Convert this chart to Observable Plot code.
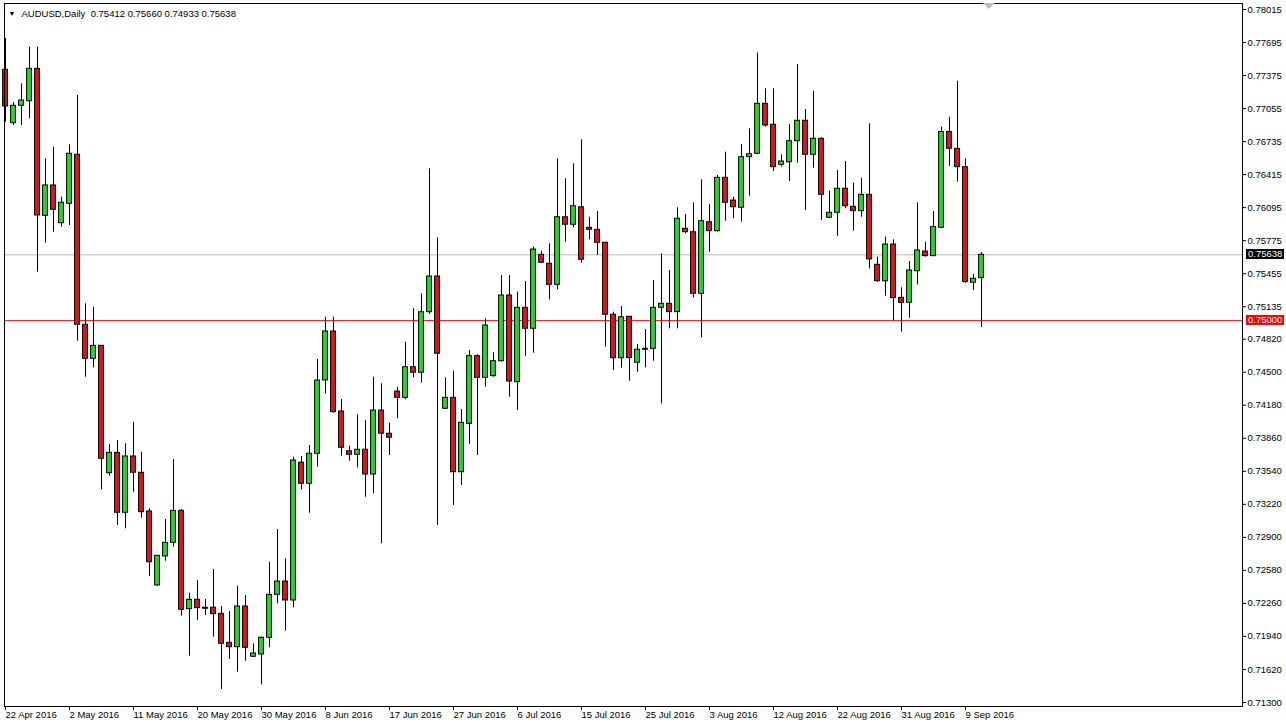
<!DOCTYPE html>
<html><head><meta charset="utf-8">
<script src="https://cdn.jsdelivr.net/npm/d3@7"></script>
<script src="https://cdn.jsdelivr.net/npm/@observablehq/plot@0.6"></script>
<style>html,body{margin:0;padding:0;background:#fff;} svg{display:block}</style>
</head><body><div id="chart"></div><script>
const symbolTitle = "AUDUSD,Daily";
const lastQuote = ["0.75412","0.75660","0.74933","0.75638"];

const open = [0.77431,0.76913,0.77082,0.77126,0.77440,0.76016,0.76310,0.75944,0.76132,0.76607,
0.74960,0.74630,0.74756,0.73522,0.73719,0.73138,0.73684,0.73526,0.73151,0.72434,
0.72715,0.72847,0.73157,0.72204,0.72295,0.72218,0.72218,0.72159,0.71878,0.71836,
0.72230,0.71743,0.71765,0.71927,0.72343,0.72472,0.72288,0.73623,0.73419,0.73710,
0.74420,0.74895,0.74120,0.73735,0.73700,0.73749,0.73509,0.74129,0.73904,0.74313,
0.74252,0.74549,0.74495,0.75082,0.75428,0.74146,0.74252,0.73531,0.74000,0.74656,
0.74446,0.74462,0.74607,0.75244,0.74404,0.75124,0.74921,0.75638,0.75551,0.75347,
0.76002,0.75929,0.76099,0.75900,0.75880,0.75754,0.75057,0.74636,0.75037,0.74592,
0.74718,0.74727,0.75124,0.75163,0.75082,0.75890,0.75857,0.75260,0.75954,0.75867,
0.76384,0.76164,0.76094,0.76584,0.76617,0.77101,0.76898,0.76510,0.76535,0.76739,
0.76937,0.76607,0.76762,0.75997,0.76045,0.76278,0.76103,0.76061,0.76219,0.75541,
0.75382,0.75738,0.75221,0.75173,0.75479,0.75670,0.75625,0.75900,0.76828,0.76665,
0.76487,0.75367,0.75412];
const high = [0.77734,0.77114,0.77295,0.77650,0.77650,0.76568,0.76681,0.76196,0.76704,0.77182,
0.75163,0.75130,0.74756,0.73800,0.73839,0.73807,0.74016,0.73725,0.73177,0.72724,
0.73073,0.73654,0.73167,0.72359,0.72482,0.72298,0.72589,0.72230,0.72182,0.72427,
0.72337,0.71869,0.71933,0.72659,0.72976,0.72692,0.73677,0.73684,0.73790,0.74624,
0.75033,0.75033,0.74236,0.73783,0.74088,0.74032,0.74452,0.74388,0.74006,0.74355,
0.74791,0.75115,0.75260,0.76471,0.75803,0.74446,0.74510,0.74139,0.74711,0.74669,
0.75018,0.74688,0.75437,0.75437,0.75276,0.75379,0.75712,0.75673,0.75745,0.76568,
0.76375,0.76520,0.76752,0.76002,0.76058,0.75760,0.75082,0.75137,0.75040,0.74769,
0.74914,0.75389,0.75648,0.75486,0.76094,0.76029,0.76142,0.76365,0.76125,0.76407,
0.76632,0.76196,0.76707,0.76859,0.77594,0.77247,0.77247,0.76607,0.76901,0.77482,
0.77046,0.77223,0.76770,0.76254,0.76455,0.76542,0.76332,0.76380,0.76907,0.75615,
0.75809,0.75783,0.75318,0.75573,0.76142,0.75760,0.76058,0.76875,0.76971,0.77320,
0.76568,0.75447,0.75660];
const low = [0.76923,0.76891,0.76891,0.76956,0.75469,0.75750,0.75857,0.75906,0.75922,0.74801,
0.74452,0.74543,0.73361,0.73493,0.73015,0.72983,0.73338,0.73086,0.72521,0.72427,
0.72669,0.72805,0.72136,0.71749,0.72094,0.72143,0.71933,0.71426,0.71717,0.71593,
0.71700,0.71736,0.71471,0.71830,0.72256,0.71991,0.72218,0.73361,0.73134,0.73580,
0.74291,0.74103,0.73687,0.73638,0.73574,0.73289,0.73322,0.72838,0.73693,0.74049,
0.74233,0.74446,0.74394,0.75060,0.73015,0.74140,0.73209,0.73403,0.73800,0.73693,
0.74355,0.74452,0.74600,0.74258,0.74129,0.74653,0.74685,0.75555,0.75202,0.75299,
0.75760,0.75900,0.75557,0.75783,0.75631,0.74743,0.74517,0.74539,0.74413,0.74500,
0.74543,0.74607,0.74194,0.74921,0.74921,0.75842,0.75221,0.74834,0.75663,0.75857,
0.75964,0.75987,0.75954,0.76206,0.76610,0.76875,0.76445,0.76487,0.76348,0.76526,
0.76067,0.76477,0.75970,0.75990,0.75818,0.76084,0.75867,0.76002,0.75502,0.75373,
0.75237,0.74995,0.74888,0.75024,0.75347,0.75615,0.75620,0.75895,0.76494,0.76342,
0.75363,0.75292,0.74933];
const close = [0.77075,0.77082,0.77133,0.77440,0.76019,0.76310,0.76074,0.76142,0.76617,0.74960,
0.74630,0.74756,0.73661,0.73719,0.73138,0.73684,0.73526,0.73144,0.72659,0.72721,
0.72847,0.73157,0.72198,0.72295,0.72214,0.72208,0.72156,0.71869,0.71836,0.72230,
0.71830,0.71775,0.71927,0.72343,0.72472,0.72288,0.73645,0.73419,0.73710,0.74420,
0.74895,0.74113,0.73768,0.73700,0.73749,0.73509,0.74129,0.73904,0.73865,0.74252,
0.74549,0.74495,0.75082,0.75428,0.74679,0.74252,0.73531,0.74010,0.74656,0.74446,
0.74953,0.74607,0.75244,0.74410,0.75124,0.74921,0.75689,0.75561,0.75347,0.76002,
0.75929,0.76109,0.75590,0.75880,0.75754,0.75057,0.74636,0.75033,0.74638,0.74718,
0.74727,0.75124,0.75163,0.75082,0.75987,0.75857,0.75260,0.75964,0.75867,0.76384,
0.76142,0.76099,0.76584,0.76613,0.77101,0.76891,0.76487,0.76542,0.76739,0.76937,
0.76607,0.76762,0.76219,0.76045,0.76278,0.76109,0.76061,0.76219,0.75593,0.75382,
0.75738,0.75218,0.75173,0.75486,0.75680,0.75625,0.75906,0.76828,0.76665,0.76487,
0.75373,0.75406,0.75638];

const dateTickBars = [0,8,16,24,32,40,48,56,64,72,80,88,96,104,112,120];
const dateTickLabels = ["22 Apr 2016","2 May 2016","11 May 2016","20 May 2016","30 May 2016","8 Jun 2016",
"17 Jun 2016","27 Jun 2016","6 Jul 2016","15 Jul 2016","25 Jul 2016","3 Aug 2016","12 Aug 2016",
"22 Aug 2016","31 Aug 2016","9 Sep 2016"];
const priceTicks = [0.78015,0.77695,0.77375,0.77055,0.76735,0.76415,0.76095,0.75775,0.75455,0.75135,
0.74820,0.74500,0.74180,0.73860,0.73540,0.73220,0.72900,0.72580,0.72260,0.71940,0.71620,0.71300];
const bidPrice = 0.75638;
const levelPrice = 0.75000;

const green = "#2fd32f", red = "#d41a1a";
const bars = open.map((o, i) => ({i, o, h: high[i], l: low[i], c: close[i], up: close[i] >= o}));
const font = "'Liberation Sans', Arial, sans-serif";

function priceTag(price, bg) {
  return (index, scales, values, dims) => {
    const y = Math.round(scales.y(price));
    const x0 = dims.width - dims.marginRight + 4;
    const g = d3.create("svg:g");
    g.append("rect").attr("x", x0).attr("y", y - 5).attr("width", 38).attr("height", 10).attr("fill", bg);
    g.append("text").attr("x", x0 + 2).attr("y", y).attr("dy", "0.35em")
      .attr("text-anchor", "start")
      .attr("fill", "white").attr("font-size", 9.5).attr("font-family", font)
      .text(price.toFixed(5));
    return g.node();
  };
}
function shiftMarker(index, scales, values, dims) {
  const cx = dims.marginLeft + (dims.width - dims.marginLeft - dims.marginRight) * 0.7955;
  return d3.create("svg:path")
    .attr("d", `M${cx - 6},${dims.marginTop} L${cx + 6},${dims.marginTop} L${cx},${dims.marginTop + 6} Z`)
    .attr("fill", "#bdbdbd").node();
}

const chart = Plot.plot({
  width: 1286, height: 728,
  marginLeft: 4, marginRight: 44, marginTop: 3, marginBottom: 22,
  style: {fontFamily: font, fontSize: "9.5px", background: "white", color: "black"},
  x: {type: "linear", domain: [-0.125, 154.625], axis: null},
  y: {domain: [0.712611, 0.780731], axis: null},
  marks: [
    Plot.ruleY([bidPrice], {stroke: "#b8b8b8"}),
    Plot.ruleY([levelPrice], {stroke: "#ff0000"}),
    Plot.ruleX(bars, {x: "i", y1: "l", y2: "h", stroke: "black", strokeWidth: 1}),
    Plot.rect(bars, {x1: d => d.i - 0.3, x2: d => d.i + 0.3, y1: "o", y2: "c",
      fill: d => d.up ? green : red, stroke: "black", strokeWidth: 1}),
    Plot.frame({stroke: "black"}),
    Plot.axisY({anchor: "right", ticks: priceTicks, tickFormat: d => d.toFixed(5), tickSize: 3, tickPadding: 2, fill: "black", label: null}),
    Plot.axisX({anchor: "bottom", ticks: dateTickBars, tickFormat: d => dateTickLabels[dateTickBars.indexOf(d)],
      tickSize: 4, tickPadding: 1, textAnchor: "start", dx: 0, fill: "black", label: null}),
    Plot.text([symbolTitle + "\u00a0\u00a0" + lastQuote.join(" ")], {frameAnchor: "top-left", dx: 17, dy: 10,
      lineAnchor: "middle", textAnchor: "start", fill: "black", fontSize: 9.5}),
    Plot.text(["\u25BC"], {frameAnchor: "top-left", dx: 4, dy: 10, lineAnchor: "middle", textAnchor: "start", fill: "black", fontSize: 7}),
    shiftMarker,
    priceTag(bidPrice, "black"),
    priceTag(levelPrice, "#ff0000")
  ]
});
document.getElementById("chart").append(chart);
</script></body></html>
